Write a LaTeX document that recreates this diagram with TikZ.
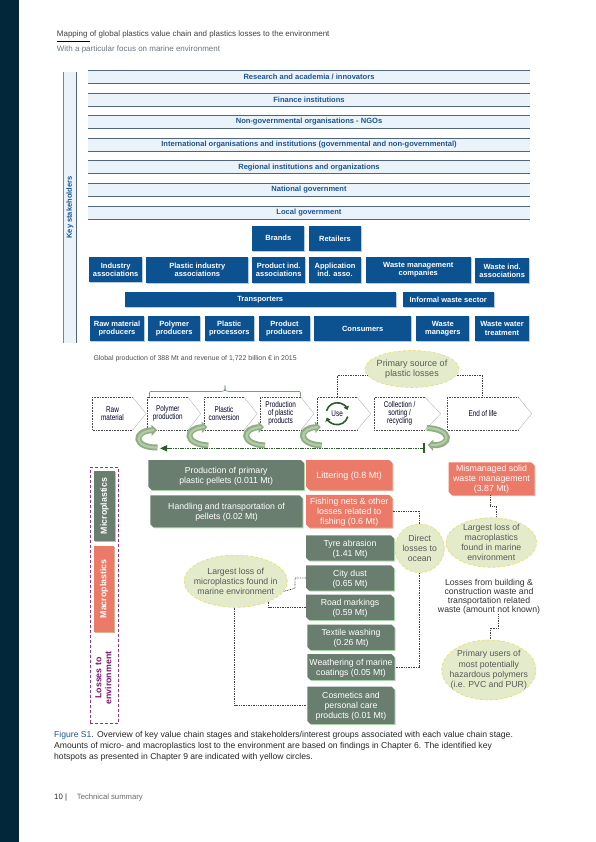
\documentclass[tikz,border=0pt]{standalone}
\usepackage{fontspec}
\setmainfont{Liberation Sans}
\newfontfamily\narrowfont[FakeStretch=0.76]{Liberation Sans}
\usetikzlibrary{arrows.meta,calc,shapes.geometric,shapes.misc,shadows}
\definecolor{bandcol}{HTML}{03273A}
\definecolor{barfill}{HTML}{EAF3F9}
\definecolor{barline}{HTML}{51667A}
\definecolor{barblue}{HTML}{1F5590}
\definecolor{boxblue}{HTML}{0C5190}
\definecolor{boxgrey}{HTML}{6A7E70}
\definecolor{boxred}{HTML}{EC7A68}
\definecolor{spotfill}{HTML}{E3EBCB}
\definecolor{spotline}{HTML}{E9DC63}
\definecolor{turncol}{HTML}{8FAE84}
\definecolor{turnlight}{HTML}{B4CBAA}
\definecolor{darkgreen}{HTML}{2C5A2A}
\definecolor{lossviolet}{HTML}{7A1470}
\newcommand{\size}[2]{\fontsize{#1}{#2}\selectfont}
\tikzset{
	bar/.style={fill=barfill, inner sep=0pt, minimum width=442pt, minimum height=12.8pt, text=barblue, font=\size{7.55}{8}\bfseries},
	barrule/.style={barline, line width=.9pt},
	bluebox/.style={fill=boxblue, text=white, inner sep=0pt, align=center, font=\size{7.5}{8.2}\bfseries,
		copy shadow={shadow xshift=1pt, shadow yshift=-1pt, fill=boxblue!30, draw=none}},
	snipped/.style={chamfered rectangle, chamfered rectangle corners={north east,south west},
		chamfered rectangle xsep=1.6pt, chamfered rectangle ysep=1.6pt, inner sep=0pt, align=center,
		text=white, text depth=-1.5pt, font=\size{8.7}{9.7}},
	greybox/.style={snipped, fill=boxgrey, copy shadow={shadow xshift=1pt, shadow yshift=-1pt, fill=boxgrey!60!green!40, draw=none}},
	redbox/.style={snipped, fill=boxred, copy shadow={shadow xshift=1pt, shadow yshift=-1pt, fill=boxred!50!brown!60, draw=none}},
	hotspot/.style={ellipse, fill=spotfill, draw=spotline, densely dashed, line width=.6pt, inner xsep=-9pt, inner ysep=-5pt, align=center,
		text=black!65, font=\size{8.7}{10.2}},
	dotline/.style={line width=.7pt, black!75, dash pattern=on .8pt off .9pt},
	stageline/.style={line width=.6pt, black!70, dash pattern=on .7pt off .9pt},
	tipline/.style={line width=.3pt, black!35},
	stagetext/.style={inner sep=0pt, minimum height=32.7pt, align=center, text=black!85!blue, font=\size{8.4}{8}\narrowfont},
	turn/.style={line width=6pt, turncol, -{Triangle[length=5.5pt,width=11pt]}},
	turninner/.style={line width=2.2pt, turnlight},
	usearrow/.style={line width=1.6pt, darkgreen, -{Triangle[length=3.5pt,width=5.5pt]}},
}
% one stage of the value chain: name, left, end of body, tip, text
\newcommand{\stage}[5]{
	\draw[stageline] (#3,397.3) -- (#2,397.3) -- (#2,430) -- (#3,430);
	\draw[tipline] (#3,397.3) -- (#4,413.7) -- (#3,430);
	\node (#1) [stagetext, minimum width={(#3-#2)*1pt}] at ({(#2+#3)/2},413.7) {#5};
}
% green turn under the stages: tail, first and second control, tip
\newcommand{\turnarrow}[4]{
	\draw[turn] #1 .. controls #2 and #3 .. #4;
	\draw[turninner] #1 .. controls #2 and #3 .. ($#4!.12!#3$);
}
\begin{document}
\begin{tikzpicture}[x=1pt,y=-1pt]
	\useasboundingbox (0,0) rectangle (595,842);
	\fill[bandcol] (0,0) rectangle (19,842);

	% page head
	\node (head) [anchor=west, inner sep=0pt, text=black!75, font=\size{8}{9}] at (56.7,34.3) {Mapping of global plastics value chain and plastics losses to the environment};
	\node (subhead) [anchor=west, inner sep=0pt, text=black!60!cyan!60!gray, font=\size{8}{9}] at (56.7,49) {With a particular focus on marine environment};
	\draw[black, line width=.5pt] (head.south west |- 0,41.7) -- (90,41.7);

	% stakeholders
	\fill[barfill] (63.3,71.7) rectangle (76.7,343);
	\draw[barline!80, line width=1.2pt] (63.3,71.7) -- (63.3,343);
	\draw[barline, line width=.6pt] (76.7,71.7) -- (76.7,343);
	\node (keys) [rotate=90, inner sep=0pt, text=barblue, font=\size{7.5}{8}\bfseries] at (70,207.5) {Key stakeholders};

	\node (research) [bar] at (309,77) {Research and academia / innovators};
	\node (finance) [bar] at (309,99.7) {Finance institutions};
	\node (ngo) [bar] at (309,122) {Non-governmental organisations - NGOs};
	\node (intl) [bar] at (309,144.8) {International organisations and institutions (governmental and non-governmental)};
	\node (regional) [bar] at (309,167.2) {Regional institutions and organizations};
	\node (national) [bar] at (309,189.8) {National government};
	\node (local) [bar] at (309,212.8) {Local government};
	\foreach \b in {research,finance,ngo,intl,regional,national,local}{
		\draw[barrule] (\b.north west) -- (\b.north east);
		\draw[barrule] (\b.south west) -- (\b.south east);
	}

	\node (brands) [bluebox, minimum width=52pt, minimum height=25.3pt] at (278.3,238.3) {Brands};
	\node (retail) [bluebox, minimum width=52pt, minimum height=25.3pt] at (335,238.5) {Retailers};

	\node (indassoc) [bluebox, minimum width=52.7pt, minimum height=25.4pt] at (115.7,269.7) {Industry\\associations};
	\node (plastassoc) [bluebox, minimum width=102pt, minimum height=25.4pt] at (197.3,270) {Plastic industry\\associations};
	\node (prodassoc) [bluebox, minimum width=52.7pt, minimum height=25.4pt] at (278.7,270) {Product ind.\\associations};
	\node (appassoc) [bluebox, minimum width=52pt, minimum height=25.4pt] at (335,270) {Application\\ind. asso.};
	\node (wastecomp) [bluebox, minimum width=105.3pt, minimum height=25.4pt] at (418.3,270) {Waste management\\companies};
	\node (wasteassoc) [bluebox, minimum width=53.7pt, minimum height=24.4pt] at (502.2,270.5) {Waste ind.\\associations};

	\node (transport) [bluebox, minimum width=271pt, minimum height=15pt] at (260.2,299.5) {Transporters};
	\node (informal) [bluebox, minimum width=91pt, minimum height=15pt] at (448.2,299.5) {Informal waste sector};

	\node (rawprod) [bluebox, minimum width=53.4pt, minimum height=25pt] at (117,328.5) {Raw material\\producers};
	\node (polyprod) [bluebox, minimum width=51.7pt, minimum height=25pt] at (174.2,328.5) {Polymer\\producers};
	\node (plastproc) [bluebox, minimum width=49.3pt, minimum height=25pt] at (229.3,328.5) {Plastic\\processors};
	\node (prodprod) [bluebox, minimum width=51.6pt, minimum height=25pt] at (284.5,328.5) {Product\\producers};
	\node (consumers) [bluebox, minimum width=97.3pt, minimum height=25pt] at (362.7,328.5) {Consumers};
	\node (wasteman) [bluebox, minimum width=53pt, minimum height=25pt] at (442.8,328.5) {Waste\\managers};
	\node (wastewater) [bluebox, minimum width=53.4pt, minimum height=25pt] at (502,328.5) {Waste water\\treatment};

	% value chain
	\node (global) [anchor=west, inner sep=0pt, text=black!70, font=\size{6.95}{8}] at (93.3,359) {Global production of 388 Mt and revenue of 1,722 billion € in 2015};
	\node (source) [hotspot, minimum width=94pt, minimum height=37pt, font=\size{9}{10.2}] at (412,369) {Primary source of\\plastic losses};

	\stage{raw}{92.3}{132.7}{146}{Raw\\material}
	\stage{polymer}{147.7}{188}{200.7}{Polymer\\production}
	\stage{conversion}{204}{244}{257.3}{Plastic\\conversion}
	\stage{products}{260.3}{301}{314}{Production\\of plastic\\products}
	\stage{use}{317.3}{357}{370.7}{Use}
	\stage{collect}{374.3}{425}{440.7}{Collection /\\sorting /\\recycling}
	\stage{eol}{447.3}{518.3}{531.7}{End of life}

	\draw[black!70!green!50!gray, line width=.5pt] (149.3,396.7) .. controls (149.3,391.3) .. (154,391.3) -- (220,391.3) .. controls (225,391.3) .. (225,385.3) .. controls (225,391.3) .. (230,391.3) -- (296,391.3) .. controls (300.7,391.3) .. (300.7,396.7);

	\draw[dotline] (source.188) -| (use.north);
	\draw[dotline] (source.352) -| (eol.north);

	\draw[usearrow] ([shift={(165:11pt)}]use.center) arc[start angle=165,end angle=20,radius=11pt];
	\draw[usearrow] ([shift={(-15:11pt)}]use.center) arc[start angle=-15,end angle=-160,radius=11pt];

	\turnarrow{(157.5,447.5)}{(133,448)}{(133,431)}{(157,430)}
	\foreach \tipx in {207.3,264,320.7}{
		\turnarrow{(\tipx+1,445.5)}{(\tipx-24,444)}{(\tipx-22,428)}{(\tipx,427)}
	}
	\turnarrow{(426.7,428)}{(453,429)}{(452,446)}{(427.7,445)}

	\coordinate (backstart) at (424,448.3);
	\coordinate (backend) at (160,448.3);
	\draw[line width=1.4pt, darkgreen, dash pattern=on 1.6pt off .8pt, -{Triangle[length=7pt,width=6pt]}] (backstart) -- (backend);
	\draw[line width=1.2pt, darkgreen] (424,442.5) -- (424,452.5);

	% losses
	\node (lossframe) [draw=lossviolet!85, densely dashed, line width=.8pt, minimum width=28.7pt, minimum height=255.6pt, inner sep=0pt] at (104.3,595.5) {};
	\node (micro) [rotate=90, fill=boxgrey, text=white, inner sep=0pt, minimum width=69.7pt, minimum height=21pt, font=\size{8.8}{10}\bfseries,
		copy shadow={shadow xshift=.8pt, shadow yshift=-.8pt, fill=boxgrey!50, draw=none}] at (104.5,505.9) {Microplastics};
	\node (macro) [rotate=90, fill=boxred, text=white, inner sep=0pt, minimum width=85.7pt, minimum height=20pt, font=\size{8.8}{10}\bfseries,
		copy shadow={shadow xshift=.8pt, shadow yshift=-.8pt, fill=brown!60, draw=none}] at (104,588.9) {Macroplastics};
	\node (losses) [rotate=90, inner sep=0pt, align=center, text=lossviolet, font=\size{8.8}{10}\bfseries] at (103.5,678) {Losses to\\environment};

	\node (pellets) [greybox, minimum width=155.7pt, minimum height=30pt] at (226.2,475) {Production of primary\\plastic pellets (0.011 Mt)};
	\node (handling) [greybox, minimum width=152.4pt, minimum height=32pt] at (226.5,511.3) {Handling and transportation of\\pellets (0.02 Mt)};
	\node (litter) [redbox, minimum width=86.3pt, minimum height=30pt, font=\size{9}{10}] at (349.2,475) {Littering (0.8 Mt)};
	\node (fishing) [redbox, minimum width=86.3pt, minimum height=32.7pt, font=\size{8.8}{10}] at (349.2,511.3) {Fishing nets \& other\\losses related to\\fishing (0.6 Mt)};
	\node (mismanaged) [redbox, minimum width=85.6pt, minimum height=32.7pt, font=\size{8.8}{10}] at (491.5,478.7) {Mismanaged solid\\waste management\\(3.87 Mt)};

	\node (tyre) [greybox, minimum width=88pt, minimum height=25.4pt] at (350,548) {Tyre abrasion\\(1.41 Mt)};
	\node (city) [greybox, minimum width=88pt, minimum height=25.4pt] at (350,578) {City dust\\(0.65 Mt)};
	\node (road) [greybox, minimum width=88pt, minimum height=25.4pt] at (350,607.3) {Road markings\\(0.59 Mt)};
	\node (textile) [greybox, minimum width=87.4pt, minimum height=25.4pt] at (351,637.3) {Textile washing\\(0.26 Mt)};
	\node (coatings) [greybox, minimum width=87.4pt, minimum height=26pt] at (351,667) {Weathering of marine\\coatings (0.05 Mt)};
	\node (cosmetics) [greybox, minimum width=87.4pt, minimum height=37.4pt] at (351,705.3) {Cosmetics and\\personal care\\products (0.01 Mt)};

	\node (direct) [hotspot, minimum width=49.3pt, minimum height=48.7pt] at (419.7,548.3) {Direct\\losses to\\ocean};
	\node (largemacro) [hotspot, minimum width=90.7pt, minimum height=49.6pt] at (491.3,542.5) {Largest loss of\\macroplastics\\found in marine\\environment};
	\node (largemicro) [hotspot, minimum width=103.3pt, minimum height=52.3pt] at (235.7,581.2) {Largest loss of\\microplastics found in\\marine environment};
	\node (building) [inner sep=0pt, align=center, text=black!80, font=\size{8.7}{9}] at (489,596.7) {Losses from building \&\\construction waste and\\transportation related\\waste (amount not known)};
	\node (users) [hotspot, minimum width=94.3pt, minimum height=60pt] at (488.8,670) {Primary users of\\most potentially\\hazardous polymers\\(i.e. PVC and PUR)};

	\draw[dotline] (mismanaged.south -| 490,0) -- (490,506.7) -- (496.7,506.7) -- (largemacro.north -| 496.7,0);
	\draw[dotline] (fishing.east) -| (direct.north);
	\draw[dotline] (direct.south) |- (coatings.east);
	\draw[dotline] (building.south -| 498.3,0) -- (498.3,628.3) -- (490,628.3) -- (users.north -| 490,0);
	\draw[dotline] (largemicro.-12) -- (295,588.3) |- (city.west);
	\draw[dotline] (largemicro.-32) |- (road.west);
	\draw[dotline] (largemicro.-92) |- (cosmetics.west);

	% caption and page foot
	\node (caption) [anchor=north west, inner sep=0pt, align=left, text=black!85, font=\size{8.6}{11}] at (54,731.5) {\textcolor{barblue}{Figure S1}. Overview of key value chain stages and stakeholders/interest groups associated with each value chain stage.\\Amounts of micro- and macroplastics lost to the environment are based on findings in Chapter 6. The identified key\\hotspots as presented in Chapter 9 are indicated with yellow circles.};
	\node (pageno) [anchor=west, inner sep=0pt, text=black!85, font=\size{7.8}{8}] at (54,797.7) {10 |};
	\node (foot) [anchor=west, inner sep=0pt, text=black!60, font=\size{7.7}{8}] at (76.7,797.7) {Technical summary};
\end{tikzpicture}
\end{document}
